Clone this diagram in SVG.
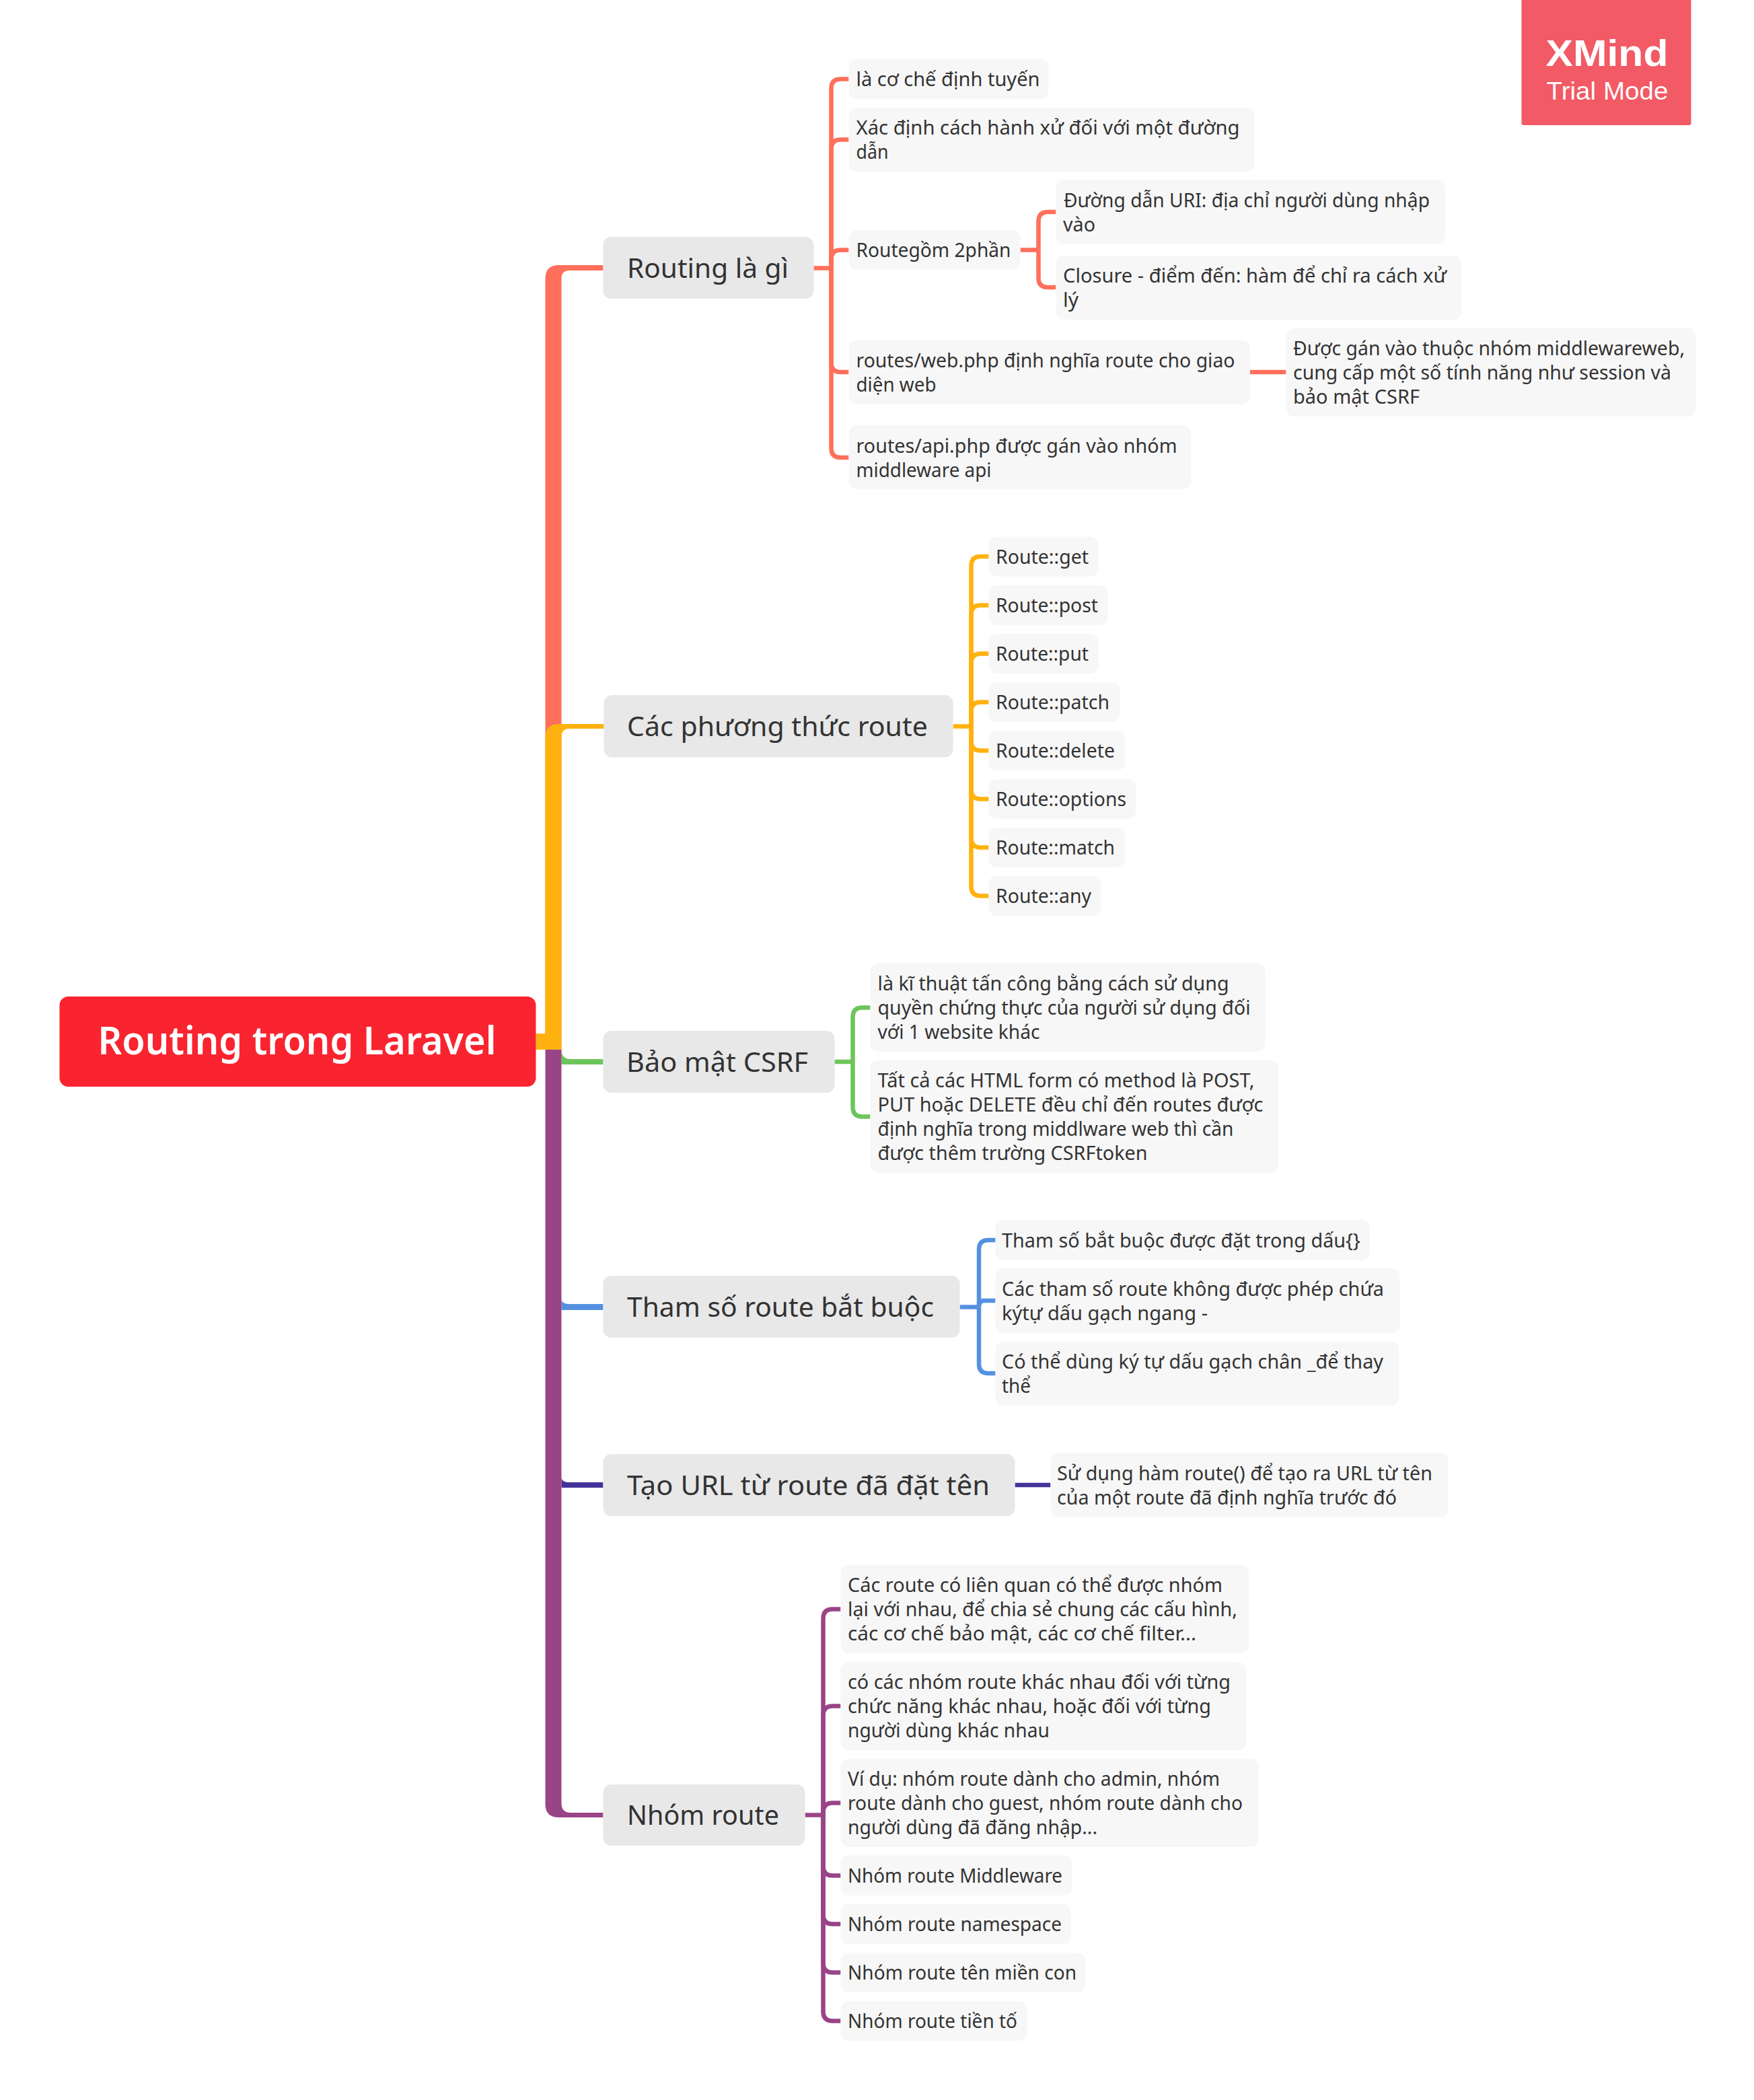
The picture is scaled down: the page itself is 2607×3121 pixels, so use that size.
<svg xmlns="http://www.w3.org/2000/svg" width="2607" height="3121" viewBox="0 0 2607 3121">
<style>
text{font-family:"Noto Sans","Open Sans","DejaVu Sans",sans-serif;fill:#333;}
.s{font-size:28.500px;transform:translate(-1.500px,0);}
.t{font-size:40px;transform:translate(-1.500px,0);}
.r{font-size:58px;font-weight:600;fill:#fff;}
.w1{font-family:"Liberation Sans",Arial,sans-serif;font-size:56px;font-weight:700;fill:#fff;}
.w2{font-family:"Liberation Sans",Arial,sans-serif;font-size:37px;fill:#fff;}
.sb{fill:#f7f7f7;}
.tb{fill:#e8e8e8;}
.c{fill:none;stroke-width:6.500;}
.red{stroke:#ff6f5b;}.org{stroke:#ffb20f;}.grn{stroke:#6cc55a;}.blu{stroke:#5590e0;}.drk{stroke:#45329a;}.pur{stroke:#9a4488;}
</style>
<rect width="2607" height="3121" fill="#fff"/>
<g transform="translate(1.500 0)">
<g id="connectors">
<path fill="#ff6f5b" d="M809,1560V414Q809,394 829,394H895V402H845Q833,402 833,414V1560Z"/>
<path fill="#ffb20f" d="M795,1536H809V1096Q809,1076 829,1076H896V1083H845Q833,1083 833,1095V1560H795Z"/>
<path fill="#6cc55a" d="M833,1560Q833,1574 847,1574H895V1582H833Z"/>
<path fill="#5590e0" d="M833,1930Q833,1938 845,1938H895V1947H833Z"/>
<path fill="#45329a" d="M833,2195Q833,2203 845,2203H895V2211H833Z"/>
<path fill="#9a4488" d="M809,1560H833V2680Q833,2694 847,2694H895V2701H829Q809,2701 809,2681Z"/>
<g>
<path class="c red" d="M1208,398.500H1234"/>
<path class="c red" d="M1234,398.500V131.500Q1234,117.500 1248,117.500H1260"/>
<path class="c red" d="M1234,398.500V221.500Q1234,207.500 1248,207.500H1260"/>
<path class="c red" d="M1234,398.500V385.500Q1234,371.500 1248,371.500H1260"/>
<path class="c red" d="M1234,398.500V539Q1234,553 1248,553H1260"/>
<path class="c red" d="M1234,398.500V666Q1234,680 1248,680H1260"/>
<path class="c red" d="M1515,371.500H1542"/>
<path class="c red" d="M1542,371.500V329Q1542,315 1556,315H1568"/>
<path class="c red" d="M1542,371.500V413Q1542,427 1556,427H1568"/>
<path class="c red" d="M1856.500,553H1910"/>
</g>
<g>
<path class="c org" d="M1415,1079.500H1442"/>
<path class="c org" d="M1442,1079.500V841Q1442,827 1456,827H1468"/>
<path class="c org" d="M1442,1079.500V913.500Q1442,899.500 1456,899.500H1468"/>
<path class="c org" d="M1442,1079.500V985.500Q1442,971.500 1456,971.500H1468"/>
<path class="c org" d="M1442,1079.500V1057.500Q1442,1043.500 1456,1043.500H1468"/>
<path class="c org" d="M1442,1079.500V1101.500Q1442,1115.500 1456,1115.500H1468"/>
<path class="c org" d="M1442,1079.500V1173.500Q1442,1187.500 1456,1187.500H1468"/>
<path class="c org" d="M1442,1079.500V1245.500Q1442,1259.500 1456,1259.500H1468"/>
<path class="c org" d="M1442,1079.500V1317.500Q1442,1331.500 1456,1331.500H1468"/>
</g>
<g>
<path class="c grn" d="M1239,1578H1266"/>
<path class="c grn" d="M1266,1578V1511.500Q1266,1497.500 1280,1497.500H1292"/>
<path class="c grn" d="M1266,1578V1645.500Q1266,1659.500 1280,1659.500H1292"/>
</g>
<g>
<path class="c blu" d="M1425,1942.500H1453.500"/>
<path class="c blu" d="M1453.500,1942.500V1857Q1453.500,1843 1467.500,1843H1478"/>
<path class="c blu" d="M1453.500,1942.500V1941Q1453.500,1933 1461.500,1933H1478"/>
<path class="c blu" d="M1453.500,1942.500V2027Q1453.500,2041 1467.500,2041H1478"/>
</g>
<path class="c drk" d="M1507,2207H1560"/>
<g>
<path class="c pur" d="M1195,2697.500H1222"/>
<path class="c pur" d="M1222,2697.500V2405.500Q1222,2391.500 1236,2391.500H1248"/>
<path class="c pur" d="M1222,2697.500V2549.500Q1222,2535.500 1236,2535.500H1248"/>
<path class="c pur" d="M1222,2697.500V2693.500Q1222,2679.500 1236,2679.500H1248"/>
<path class="c pur" d="M1222,2697.500V2773.500Q1222,2787.500 1236,2787.500H1248"/>
<path class="c pur" d="M1222,2697.500V2845.500Q1222,2859.500 1236,2859.500H1248"/>
<path class="c pur" d="M1222,2697.500V2917.500Q1222,2931.500 1236,2931.500H1248"/>
<path class="c pur" d="M1222,2697.500V2989.500Q1222,3003.500 1236,3003.500H1248"/>
</g>
</g>
<g id="root"><rect x="87" y="1481" width="708" height="134" rx="13" fill="#f92430"/><text class="r" x="144" y="1567" textLength="592" lengthAdjust="spacingAndGlyphs">Routing trong Laravel</text></g>
<g id="t1"><rect class="tb" x="895" y="352" width="313" height="92" rx="12"/><text class="t" x="932" y="412.500" textLength="240" lengthAdjust="spacingAndGlyphs">Routing là gì</text></g>
<g id="t2"><rect class="tb" x="896" y="1033" width="519" height="92.500" rx="12"/><text class="t" x="932" y="1094" textLength="447" lengthAdjust="spacingAndGlyphs">Các phương thức route</text></g>
<g id="t3"><rect class="tb" x="895" y="1532" width="344" height="92" rx="12"/><text class="t" x="931" y="1592.500" textLength="270" lengthAdjust="spacingAndGlyphs">Bảo mật CSRF</text></g>
<g id="t4"><rect class="tb" x="895" y="1896" width="530" height="92" rx="12"/><text class="t" x="932" y="1956.500" textLength="456" lengthAdjust="spacingAndGlyphs">Tham số route bắt buộc</text></g>
<g id="t5"><rect class="tb" x="895" y="2161" width="612" height="92" rx="12"/><text class="t" x="932" y="2221.500" textLength="539" lengthAdjust="spacingAndGlyphs">Tạo URL từ route đã đặt tên</text></g>
<g id="t6"><rect class="tb" x="895" y="2652" width="300" height="91" rx="12"/><text class="t" x="932" y="2712" textLength="226" lengthAdjust="spacingAndGlyphs">Nhóm route</text></g>

<g id="n1"><rect class="sb" x="1260" y="88" width="297" height="59" rx="12"/><text class="s" x="1272.500" y="128" textLength="273" lengthAdjust="spacingAndGlyphs">là cơ chế định tuyến</text></g>
<g id="n2"><rect class="sb" x="1260" y="160" width="603" height="95" rx="12"/><text class="s" x="1272.500" y="200" textLength="570" lengthAdjust="spacingAndGlyphs">Xác định cách hành xử đối với một đường</text><text class="s" x="1272.500" y="236" textLength="48" lengthAdjust="spacingAndGlyphs">dẫn</text></g>
<g id="n3"><rect class="sb" x="1260" y="342" width="255" height="59" rx="12"/><text class="s" x="1272.500" y="382" textLength="230" lengthAdjust="spacingAndGlyphs">Routegồm 2phần</text></g>
<g id="n4"><rect class="sb" x="1568" y="267" width="579" height="96" rx="12"/><text class="s" x="1581" y="307.500" textLength="544" lengthAdjust="spacingAndGlyphs">Đường dẫn URI: địa chỉ người dùng nhập</text><text class="s" x="1580" y="343.500" textLength="48" lengthAdjust="spacingAndGlyphs">vào</text></g>
<g id="n5"><rect class="sb" x="1568" y="380" width="603" height="95" rx="12"/><text class="s" x="1580" y="419.500" textLength="570" lengthAdjust="spacingAndGlyphs">Closure - điểm đến: hàm để chỉ ra cách xử</text><text class="s" x="1580" y="455.500" textLength="23" lengthAdjust="spacingAndGlyphs">lý</text></g>
<g id="n6"><rect class="sb" x="1260" y="505.500" width="596.500" height="95.500" rx="12"/><text class="s" x="1272.500" y="545.500" textLength="563" lengthAdjust="spacingAndGlyphs">routes/web.php định nghĩa route cho giao</text><text class="s" x="1272.500" y="581.500" textLength="119" lengthAdjust="spacingAndGlyphs">diện web</text></g>
<g id="n7"><rect class="sb" x="1910" y="488" width="609" height="131" rx="12"/><text class="s" x="1922" y="528" textLength="582" lengthAdjust="spacingAndGlyphs">Được gán vào thuộc nhóm middlewareweb,</text><text class="s" x="1922" y="564" textLength="562" lengthAdjust="spacingAndGlyphs">cung cấp một số tính năng như session và</text><text class="s" x="1922" y="600" textLength="188" lengthAdjust="spacingAndGlyphs">bảo mật CSRF</text></g>
<g id="n8"><rect class="sb" x="1260" y="632" width="509" height="95" rx="12"/><text class="s" x="1272.500" y="672.500" textLength="477" lengthAdjust="spacingAndGlyphs">routes/api.php được gán vào nhóm</text><text class="s" x="1272.500" y="708.500" textLength="201" lengthAdjust="spacingAndGlyphs">middleware api</text></g>

<g id="m1"><rect class="sb" x="1468" y="797.500" width="163" height="59.500" rx="12"/><text class="s" x="1480" y="837.500" textLength="138" lengthAdjust="spacingAndGlyphs">Route::get</text></g>
<g id="m2"><rect class="sb" x="1468" y="870" width="177" height="59" rx="12"/><text class="s" x="1480" y="910" textLength="152" lengthAdjust="spacingAndGlyphs">Route::post</text></g>
<g id="m3"><rect class="sb" x="1468" y="942" width="163" height="59" rx="12"/><text class="s" x="1480" y="982" textLength="138" lengthAdjust="spacingAndGlyphs">Route::put</text></g>
<g id="m4"><rect class="sb" x="1468" y="1014" width="195" height="59" rx="12"/><text class="s" x="1480" y="1054" textLength="169" lengthAdjust="spacingAndGlyphs">Route::patch</text></g>
<g id="m5"><rect class="sb" x="1468" y="1086" width="203" height="59" rx="12"/><text class="s" x="1480" y="1126" textLength="177" lengthAdjust="spacingAndGlyphs">Route::delete</text></g>
<g id="m6"><rect class="sb" x="1468" y="1158" width="219" height="59" rx="12"/><text class="s" x="1480" y="1198" textLength="194" lengthAdjust="spacingAndGlyphs">Route::options</text></g>
<g id="m7"><rect class="sb" x="1468" y="1230" width="203" height="59" rx="12"/><text class="s" x="1480" y="1270" textLength="177" lengthAdjust="spacingAndGlyphs">Route::match</text></g>
<g id="m8"><rect class="sb" x="1468" y="1302" width="167" height="59" rx="12"/><text class="s" x="1480" y="1342" textLength="142" lengthAdjust="spacingAndGlyphs">Route::any</text></g>

<g id="c1"><rect class="sb" x="1292" y="1431.500" width="587" height="131.500" rx="12"/><text class="s" x="1304.500" y="1472" textLength="522" lengthAdjust="spacingAndGlyphs">là kĩ thuật tấn công bằng cách sử dụng</text><text class="s" x="1304.500" y="1508" textLength="554" lengthAdjust="spacingAndGlyphs">quyền chứng thực của người sử dụng đối</text><text class="s" x="1304.500" y="1544" textLength="241" lengthAdjust="spacingAndGlyphs">với 1 website khác</text></g>
<g id="c2"><rect class="sb" x="1292" y="1575.500" width="607" height="167.500" rx="12"/><text class="s" x="1304.500" y="1616" textLength="560" lengthAdjust="spacingAndGlyphs">Tất cả các HTML form có method là POST,</text><text class="s" x="1304.500" y="1652" textLength="573" lengthAdjust="spacingAndGlyphs">PUT hoặc DELETE đều chỉ đến routes được</text><text class="s" x="1304.500" y="1688" textLength="529" lengthAdjust="spacingAndGlyphs">định nghĩa trong middlware web thì cần</text><text class="s" x="1304.500" y="1724" textLength="401" lengthAdjust="spacingAndGlyphs">được thêm trường CSRFtoken</text></g>

<g id="b1"><rect class="sb" x="1478" y="1813" width="556" height="60" rx="12"/><text class="s" x="1489" y="1853.500" textLength="533" lengthAdjust="spacingAndGlyphs">Tham số bắt buộc được đặt trong dấu{}</text></g>
<g id="b2"><rect class="sb" x="1478" y="1885" width="601" height="96" rx="12"/><text class="s" x="1489" y="1925.500" textLength="568" lengthAdjust="spacingAndGlyphs">Các tham số route không được phép chứa</text><text class="s" x="1489" y="1961.500" textLength="306" lengthAdjust="spacingAndGlyphs">kýtự dấu gạch ngang -</text></g>
<g id="b3"><rect class="sb" x="1478" y="1993.500" width="600" height="95.500" rx="12"/><text class="s" x="1489" y="2033.500" textLength="567" lengthAdjust="spacingAndGlyphs">Có thể dùng ký tự dấu gạch chân _để thay</text><text class="s" x="1489" y="2069.500" textLength="43" lengthAdjust="spacingAndGlyphs">thể</text></g>

<g id="u1"><rect class="sb" x="1560" y="2159.500" width="591" height="95.500" rx="12"/><text class="s" x="1571" y="2199.500" textLength="558" lengthAdjust="spacingAndGlyphs">Sử dụng hàm route() để tạo ra URL từ tên</text><text class="s" x="1571" y="2235.500" textLength="505" lengthAdjust="spacingAndGlyphs">của một route đã định nghĩa trước đó</text></g>

<g id="g1"><rect class="sb" x="1248" y="2326" width="607" height="131" rx="12"/><text class="s" x="1260" y="2366" textLength="557" lengthAdjust="spacingAndGlyphs">Các route có liên quan có thể được nhóm</text><text class="s" x="1260" y="2402" textLength="579" lengthAdjust="spacingAndGlyphs">lại với nhau, để chia sẻ chung các cấu hình,</text><text class="s" x="1260" y="2438" textLength="518" lengthAdjust="spacingAndGlyphs">các cơ chế bảo mật, các cơ chế filter...</text></g>
<g id="g2"><rect class="sb" x="1248" y="2470" width="603" height="131" rx="12"/><text class="s" x="1260" y="2510" textLength="569" lengthAdjust="spacingAndGlyphs">có các nhóm route khác nhau đối với từng</text><text class="s" x="1260" y="2546" textLength="540" lengthAdjust="spacingAndGlyphs">chức năng khác nhau, hoặc đối với từng</text><text class="s" x="1260" y="2582" textLength="300" lengthAdjust="spacingAndGlyphs">người dùng khác nhau</text></g>
<g id="g3"><rect class="sb" x="1248" y="2614" width="621" height="131" rx="12"/><text class="s" x="1260" y="2654" textLength="553" lengthAdjust="spacingAndGlyphs">Ví dụ: nhóm route dành cho admin, nhóm</text><text class="s" x="1260" y="2690" textLength="587" lengthAdjust="spacingAndGlyphs">route dành cho guest, nhóm route dành cho</text><text class="s" x="1260" y="2726" textLength="371" lengthAdjust="spacingAndGlyphs">người dùng đã đăng nhập...</text></g>
<g id="g4"><rect class="sb" x="1248" y="2757.500" width="344" height="59.500" rx="12"/><text class="s" x="1260" y="2798" textLength="319" lengthAdjust="spacingAndGlyphs">Nhóm route Middleware</text></g>
<g id="g5"><rect class="sb" x="1248" y="2830" width="342.500" height="59" rx="12"/><text class="s" x="1260" y="2870" textLength="318" lengthAdjust="spacingAndGlyphs">Nhóm route namespace</text></g>
<g id="g6"><rect class="sb" x="1248" y="2902" width="364" height="59" rx="12"/><text class="s" x="1260" y="2942" textLength="340" lengthAdjust="spacingAndGlyphs">Nhóm route tên miền con</text></g>
<g id="g7"><rect class="sb" x="1248" y="2974" width="276.500" height="59" rx="12"/><text class="s" x="1260" y="3014" textLength="252" lengthAdjust="spacingAndGlyphs">Nhóm route tiền tố</text></g>

<g id="watermark"><path fill="#f25a65" d="M2260,0H2512V183Q2512,186 2509,186H2263Q2260,186 2260,183Z"/><text class="w1" x="2296" y="98" textLength="182" lengthAdjust="spacingAndGlyphs">XMind</text><text class="w2" x="2297" y="148" textLength="181" lengthAdjust="spacingAndGlyphs">Trial Mode</text></g>
</g>
</svg>
